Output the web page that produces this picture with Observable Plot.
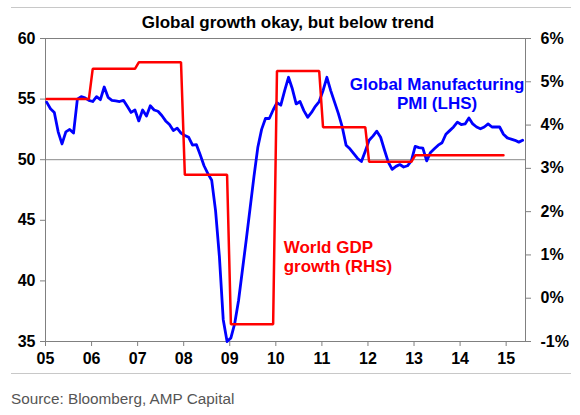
<!DOCTYPE html>
<html><head><meta charset="utf-8">
<script src="https://cdn.jsdelivr.net/npm/d3@7"></script>
<script src="https://cdn.jsdelivr.net/npm/@observablehq/plot@0.6"></script>
<style>
body{margin:0;background:#fff;font-family:"Liberation Sans",Arial,sans-serif;}
#wrap{position:relative;width:580px;height:415px;overflow:hidden;background:#fff;}
#title{position:absolute;left:0;width:576px;top:14px;text-align:center;font-weight:bold;font-size:17px;line-height:1;color:#000;}
.sep{position:absolute;left:11px;width:560px;height:1px;background:#c8c8c8;}
#source{position:absolute;left:11px;top:391px;font-size:15.3px;line-height:1;color:#555;}
#chart{position:absolute;left:0;top:0;}
</style></head><body>
<div id="wrap">
<div class="sep" style="top:7px"></div>
<div id="title">Global growth okay, but below trend</div>
<div id="chart"></div>
<div class="sep" style="top:373px"></div>
<div id="source">Source: Bloomberg, AMP Capital</div>
</div>
<script>
// Global Manufacturing PMI, monthly from Jan 2005 (LHS)
const pmiStartYear = 2005;
const pmi = [
  54.75, 54.2, 53.9, 52.3, 51.3, 52.3, 52.5, 52.2, 55.0, 55.2,
  55.1, 54.9, 54.8, 55.2, 54.95, 56.0, 55.15, 54.9, 54.85, 54.8,
  54.9, 54.4, 53.9, 54.1, 53.2, 54.1, 53.6, 54.45, 54.1, 54.0,
  53.65, 53.2, 52.9, 52.4, 52.6, 52.2, 52.0, 51.85, 51.2, 51.25,
  50.4, 49.5, 48.85, 48.3, 45.8, 42.0, 36.8, 35.0, 35.3, 36.5,
  38.4, 40.9, 43.4, 46.0, 48.6, 51.0, 52.5, 53.4, 53.4, 54.1,
  54.7, 54.5, 55.7, 56.8, 55.85, 54.6, 54.8, 54.05, 53.5, 53.9,
  54.4, 54.8, 55.7, 56.8, 55.7, 54.75, 53.8, 52.7, 51.2, 50.9,
  50.5, 50.1, 49.85, 50.7, 51.6, 51.95, 52.35, 51.85, 50.8, 49.8,
  49.2, 49.45, 49.6, 49.4, 49.5, 49.9, 51.1, 51.0, 50.95, 49.9,
  50.6, 50.9, 51.2, 51.4, 52.1, 52.4, 52.7, 53.1, 52.9, 52.95,
  53.45, 52.95, 52.7, 52.55, 52.7, 52.95, 52.7, 52.7, 52.7, 52.1,
  51.8, 51.7, 51.6, 51.45, 51.6
];
// World GDP growth, % per year (RHS)
const gdpYears = [2005, 2006, 2007, 2008, 2009, 2010, 2011, 2012, 2013, 2014];
const gdpGrowth = [4.6, 5.3, 5.45, 2.85, -0.6, 5.25, 3.95, 3.15, 3.3, 3.3];

const xTickYears = [2005, 2006, 2007, 2008, 2009, 2010, 2011, 2012, 2013, 2014, 2015];
const xTickLabels = ["05", "06", "07", "08", "09", "10", "11", "12", "13", "14", "15"];
const leftTicks = [35, 40, 45, 50, 55, 60];
const rightTicks = [-1, 0, 1, 2, 3, 4, 5, 6];
const rightTickLabels = ["-1%", "0%", "1%", "2%", "3%", "4%", "5%", "6%"];
const pmiLabel = "Global Manufacturing\nPMI (LHS)";
const gdpLabel = "World GDP\ngrowth (RHS)";

// map RHS % onto the LHS PMI scale (-1% ↔ 35, 6% ↔ 60)
const toLeft = v => 35 + (v + 1) * 25 / 7;
const monthPos = 0.3;

const pmiData = pmi.map((v, i) => ({t: pmiStartYear + (i + monthPos) / 12, v}));
const gdpData = [];
gdpYears.forEach((yr, k) => {
  for (let m = 0; m < 12; m++) gdpData.push({t: yr + (m + monthPos) / 12, v: toLeft(gdpGrowth[k])});
});

const font = "'Liberation Sans', Arial, sans-serif";
const chart = Plot.plot({
  width: 580, height: 415,
  marginLeft: 45, marginRight: 55, marginTop: 38, marginBottom: 74,
  x: {domain: [2005, 2015.42]},
  y: {domain: [35, 60]},
  style: {fontFamily: font, fontSize: "16px", color: "#000", background: "transparent", overflow: "visible"},
  marks: [
    Plot.ruleY([50], {stroke: "#8a8a8a", strokeWidth: 1}),
    Plot.frame({stroke: "#808080", strokeWidth: 1}),
    Plot.axisY(leftTicks, {anchor: "left", tickSize: 5, tickPadding: 5, label: null, stroke: "#808080", fill: "#000", fontWeight: "bold", fontSize: 16}),
    Plot.axisY(rightTicks.map(toLeft), {anchor: "right", tickSize: 5, tickPadding: 10, label: null,
      tickFormat: d => rightTickLabels[rightTicks.findIndex(v => Math.abs(toLeft(v) - d) < 1e-6)],
      stroke: "#808080", fill: "#000", fontWeight: "bold", fontSize: 16}),
    Plot.axisX(xTickYears, {anchor: "bottom", tickSize: 5, tickPadding: 6, label: null,
      tickFormat: d => xTickLabels[xTickYears.indexOf(d)],
      stroke: "#808080", fill: "#000", fontWeight: "bold", fontSize: 16}),
    Plot.line(pmiData, {x: "t", y: "v", stroke: "#0000ff", strokeWidth: 2.8, strokeLinejoin: "round"}),
    Plot.line(gdpData, {x: "t", y: "v", stroke: "#ff0000", strokeWidth: 2.5, strokeLinejoin: "miter"}),
    Plot.text([pmiLabel], {x: () => 2013.5, y: () => 55.46, text: d => d, fill: "#0000ff", fontSize: 17, fontWeight: "bold", lineHeight: 1.08, textAnchor: "middle"}),
    Plot.text([gdpLabel], {x: () => 2010.17, y: () => 42.0, text: d => d, fill: "#ff0000", fontSize: 17, fontWeight: "bold", lineHeight: 1.08, textAnchor: "start"})
  ]
});
document.getElementById("chart").appendChild(chart);
</script>
</body></html>
